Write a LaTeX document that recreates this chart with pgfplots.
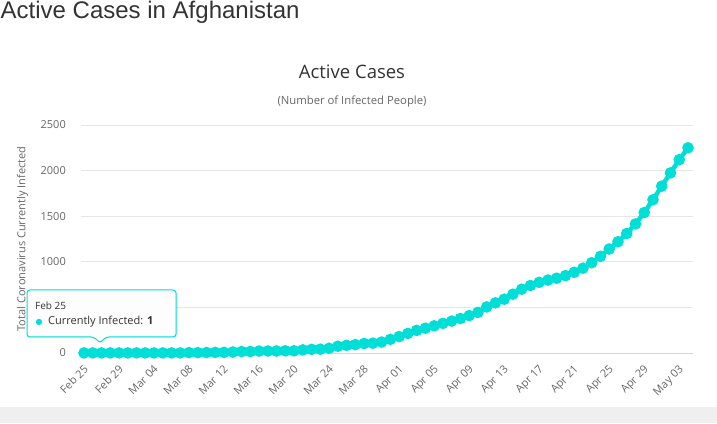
\documentclass[border=0pt]{standalone}
\usepackage{fontspec}
\usepackage{pgfplots}
\pgfplotsset{compat=1.18}
\setmainfont{Open Sans}
\newfontfamily\titlefont{Liberation Sans}
\newfontfamily\symfont{DejaVu Sans}

\definecolor{linecyan}{HTML}{00DED8}
\definecolor{txtdark}{HTML}{333333}
\definecolor{txtgray}{HTML}{666666}
\definecolor{gridgray}{HTML}{E6E6E6}
\definecolor{axisblue}{HTML}{CCD6EB}
\definecolor{bandgray}{HTML}{EFEFEF}

\begin{document}
\begin{tikzpicture}[x=1pt,y=1pt]
\useasboundingbox (0,0) rectangle (717,423);
% footer band
\fill[bandgray] (0,0) rectangle (717,16);
% page heading
\node[anchor=base west, inner sep=0pt, text=txtdark,
      font=\titlefont\fontsize{24}{28}\selectfont] at (0.5,404.5) {Active Cases in Afghanistan};
% chart title and subtitle
\node[text=txtdark, inner sep=0pt, font=\fontsize{18.5}{22}\selectfont] at (352,351) {Active Cases};
\node[text=txtgray, inner sep=0pt, font=\fontsize{11.3}{13}\selectfont] at (352,321) {(Number of Infected People)};
% y axis title
\node[rotate=90, text=txtgray, inner sep=0pt, font=\fontsize{11}{13}\selectfont] at (22.5,184) {Total Coronavirus Currently Infected};

\begin{axis}[
  at={(81pt,70pt)}, anchor=south west, scale only axis,
  width=612pt, height=228pt,
  xmin=-0.343, xmax=69.57, ymin=0, ymax=2500,
  clip=false,
  axis x line*=bottom, axis y line*=left,
  x axis line style={axisblue, line width=1pt, -},
  y axis line style={draw=none},
  major tick length=0pt,
  ymajorgrids, grid style={gridgray, line width=1pt},
  ytick={0,500,1000,1500,2000,2500},
  yticklabels={0,500,1000,1500,2000,2500},
  yticklabel style={text=txtgray, font=\fontsize{11}{13}\selectfont, inner sep=0pt, xshift=-15pt},
  xtick={0,4,...,68},
  xticklabels={Feb 25,Feb 29,Mar 04,Mar 08,Mar 12,Mar 16,Mar 20,Mar 24,Mar 28,
               Apr 01,Apr 05,Apr 09,Apr 13,Apr 17,Apr 21,Apr 25,Apr 29,May 03},
  xticklabel style={xshift=-1pt, yshift=-11pt, rotate=45, anchor=north east, text=txtgray,
                    font=\fontsize{11}{13}\selectfont, inner sep=0pt},
]
\addplot[linecyan, line width=4.5pt, mark=*, mark size=3.4pt,
         mark options={fill=linecyan, draw=none}] coordinates {
  (0,1)(1,1)(2,1)(3,1)(4,1)(5,1)(6,1)(7,1)(8,1)(9,1)(10,1)(11,1)
  (12,4)(13,4)(14,5)(15,7)(16,7)(17,11)(18,16)(19,16)(20,21)(21,22)
  (22,22)(23,24)(24,24)(25,34)(26,40)(27,42)(28,52)(29,74)(30,84)(31,92)
  (32,104)(33,108)(34,120)(35,150)(36,180)(37,215)(38,248)(39,272)(40,298)
  (41,325)(42,350)(43,378)(44,410)(45,445)(46,505)(47,550)(48,590)(49,645)
  (50,700)(51,740)(52,775)(53,800)(54,820)(55,848)(56,885)(57,930)(58,990)
  (59,1060)(60,1140)(61,1220)(62,1310)(63,1415)(64,1540)(65,1680)(66,1830)
  (67,1975)(68,2120)(69,2250)
};
% hovered point
\addplot[only marks, color=linecyan, mark=*, mark size=4.6pt,
         mark options={fill=linecyan, draw=linecyan}] coordinates {(3,1)};
\end{axis}

% tooltip
\path[fill=black, opacity=0.06, rounded corners=3pt, shift={(1.5,-1.5)}]
  (27,86) -- (94,86) -- (100,80) -- (106,86) -- (176,86) -- (176,133) -- (27,133) -- cycle;
\path[draw=linecyan, line width=1pt, fill=white, fill opacity=0.95, rounded corners=3pt]
  (27,86) -- (94,86) -- (100,80) -- (106,86) -- (176,86) -- (176,133) -- (27,133) -- cycle;
\node[anchor=base west, inner sep=0pt, text=txtdark, font=\fontsize{10}{12}\selectfont] at (35,113) {Feb 25};
\node[anchor=base west, inner sep=0pt, text=linecyan, font=\symfont\fontsize{8}{10}\selectfont] at (35.5,99) {●};
\node[anchor=base west, inner sep=0pt, text=txtdark, font=\fontsize{11}{14}\selectfont] at (48,98) {Currently Infected: \textbf{1}};
\end{tikzpicture}
\end{document}
